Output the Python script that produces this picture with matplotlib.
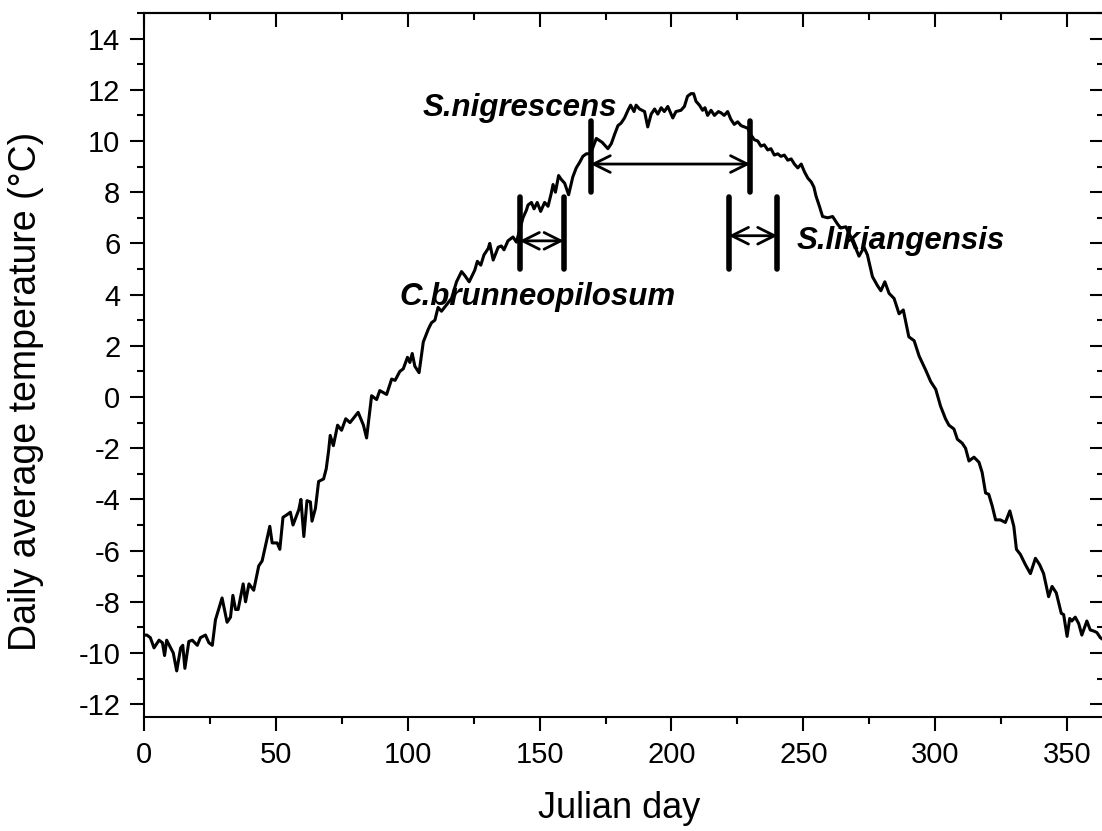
import matplotlib
matplotlib.use('Agg')
from matplotlib import pyplot as plt
from matplotlib.ticker import MultipleLocator

# daily mean temperature (day of year, degC)
day = [0, 1.1, 2.4, 3.8, 5.7, 7.0, 7.8, 8.6, 10.1, 11.1, 12.4, 13.9, 14.7, 15.5, 17.0, 18.3,
       20.2, 21.4, 23.3, 24.6, 25.9, 27.1, 29.6, 31.5, 32.8, 33.7, 34.7, 35.7, 37.6, 38.5,
       39.8, 41.6, 43.5, 44.8, 47.7, 48.6, 50.5, 51.5, 52.7, 54.2, 55.5, 56.5, 58.7, 59.5,
       60.6, 61.8, 63.1, 63.7, 65.0, 66.2, 68.1, 69.1, 70.0, 70.6, 71.8, 73.4, 74.9, 76.5,
       78.1, 81.2, 83.2, 84.4, 86.3, 88.2, 89.4, 92.0, 93.9, 95.2, 97.0, 98.3, 99.9, 100.8,
       101.7, 102.7, 104.3, 105.9, 107.8, 109.0, 110.3, 111.5, 112.8, 114.7, 116.6, 118.5,
       120.4, 121.6, 123.3, 125.4, 126.4, 127.7, 128.9, 130.5, 131.1, 132.4, 134.3, 135.5,
       136.5, 138.0, 139.9, 141.2, 143.7, 145.0, 145.6, 146.9, 147.9, 149.1, 150.4, 151.9,
       153.2, 154.4, 155.1, 156.0, 157.2, 158.2, 159.5, 161.0, 162.6, 163.9, 165.1, 166.4,
       167.7, 169.3, 171.5, 173.7, 175.9, 177.2, 178.4, 179.7, 180.9, 182.2, 183.5, 184.5,
       185.8, 186.6, 187.9, 189.8, 191.0, 192.3, 193.6, 194.8, 196.1, 197.3, 198.6, 200.5,
       201.7, 203.6, 204.9, 206.1, 207.4, 208.4, 209.3, 210.6, 211.8, 212.7, 213.7, 215.0,
       216.3, 217.8, 218.8, 220.0, 221.3, 222.5, 223.8, 225.1, 226.4, 227.6, 228.9, 230.1,
       231.4, 232.7, 233.9, 235.2, 236.5, 237.7, 239.0, 240.3, 241.5, 242.8, 244.1, 245.4,
       246.6, 247.9, 249.2, 250.4, 251.7, 253.0, 254.0, 254.8, 256.1, 257.3, 259.2, 261.1,
       263.0, 264.2, 266.1, 268.0, 269.9, 271.1, 273.0, 274.3, 276.2, 278.1, 279.4, 280.9,
       282.5, 284.4, 286.3, 287.9, 290.0, 292.0, 293.9, 296.4, 298.3, 300.2, 302.0, 303.9,
       305.2, 307.1, 308.4, 310.2, 311.5, 312.8, 314.7, 316.6, 317.8, 319.1, 320.3, 321.6,
       322.9, 324.7, 326.6, 328.3, 329.8, 330.8, 332.3, 334.2, 336.1, 338.0, 339.6, 341.1,
       343.0, 344.3, 345.9, 347.8, 348.7, 350.0, 351.0, 351.8, 353.1, 354.4, 355.6, 357.5,
       358.8, 360.3, 361.3, 362.6, 364.0]
temp = [-9.3, -9.3, -9.4, -9.8, -9.5, -9.6, -10.1, -9.5, -9.8, -10.0, -10.7, -9.8, -9.7, -10.6,
        -9.55, -9.5, -9.7, -9.4, -9.3, -9.6, -9.7, -8.7, -7.85, -8.8, -8.6, -7.75, -8.3, -8.3,
        -7.3, -8.0, -7.3, -7.55, -6.6, -6.4, -5.05, -5.7, -5.7, -5.95, -4.7, -4.6, -4.5, -5.0,
        -4.4, -4.0, -5.45, -4.05, -4.1, -4.85, -4.35, -3.3, -3.2, -2.8, -2.1, -1.5, -1.9, -1.1,
        -1.3, -0.85, -1.0, -0.6, -1.1, -1.6, 0.05, -0.1, 0.25, 0.1, 0.7, 0.65, 1.0, 1.1, 1.55,
        1.35, 1.7, 1.2, 0.95, 2.15, 2.65, 2.9, 3.0, 3.5, 3.35, 3.6, 3.85, 4.5, 4.9, 4.75, 4.5,
        4.95, 5.3, 5.15, 5.55, 5.8, 6.0, 5.35, 5.85, 5.9, 5.75, 6.1, 6.25, 6.05, 7.0, 7.3, 7.5,
        7.6, 7.35, 7.6, 7.25, 7.6, 7.45, 7.95, 8.3, 8.0, 8.65, 8.5, 8.35, 7.9, 8.6, 8.95, 9.15,
        9.4, 9.5, 9.5, 10.1, 9.95, 9.7, 9.9, 10.25, 10.6, 10.7, 10.9, 11.2, 11.4, 11.15, 11.4,
        11.25, 11.15, 10.55, 11.05, 11.25, 11.05, 11.3, 11.15, 11.35, 10.9, 11.15, 11.2, 11.35,
        11.75, 11.85, 11.85, 11.55, 11.4, 11.2, 11.3, 11.0, 11.2, 11.0, 11.15, 11.1, 11.0,
        11.15, 10.85, 10.65, 10.75, 10.6, 10.55, 10.5, 10.25, 10.05, 10.0, 9.8, 9.85, 9.65,
        9.7, 9.45, 9.5, 9.4, 9.45, 9.25, 9.3, 9.1, 8.95, 9.1, 8.8, 8.55, 8.4, 8.2, 7.85, 7.45,
        7.05, 7.0, 7.05, 6.75, 6.6, 6.65, 6.25, 5.8, 5.5, 5.85, 5.55, 4.7, 4.35, 4.15, 4.5,
        4.05, 3.85, 3.25, 3.4, 2.35, 2.2, 1.6, 1.05, 0.6, 0.3, -0.35, -0.85, -1.1, -1.25, -1.65,
        -1.8, -2.0, -2.5, -2.35, -2.55, -2.95, -3.75, -3.8, -4.25, -4.8, -4.8, -4.9, -4.45,
        -5.05, -5.95, -6.15, -6.55, -6.9, -6.3, -6.55, -6.9, -7.8, -7.4, -7.65, -8.45, -8.5,
        -9.35, -8.65, -8.75, -8.6, -8.85, -9.3, -8.75, -9.1, -9.15, -9.2, -9.4, -9.5]

# species periods: start/end day, bar extent, arrow level, label anchor
species = ['C.brunneopilosum', 'S.nigrescens', 'S.likiangensis']
start = [142.4, 169.3, 221.7]
end = [159.2, 229.9, 240.2]
bar_lo = [5.0, 8.0, 5.0]
bar_hi = [7.8, 10.8, 7.8]
arrow_y = [6.1, 9.1, 6.3]
label_x = [97.0, 105.5, 247.3]
label_y = [3.9, 11.3, 6.1]

plt.rcParams['font.family'] = ['Liberation Sans', 'DejaVu Sans']
plt.rcParams['axes.unicode_minus'] = False

fig = plt.figure(figsize=(11.02, 8.31), dpi=100)
ax = fig.add_axes([144 / 1102, 114 / 831, 960 / 1102, 704 / 831])

ax.plot(day, temp, color='black', lw=2.2)

for i in range(len(species)):
    for xb in (start[i], end[i]):
        ax.plot([xb, xb], [bar_lo[i], bar_hi[i]], color='black', lw=4,
                solid_capstyle='round')
    ax.annotate('', xy=(end[i], arrow_y[i]), xytext=(start[i], arrow_y[i]),
                arrowprops=dict(arrowstyle='<->,head_length=0.6,head_width=0.3',
                                color='black', lw=2, shrinkA=0, shrinkB=0,
                                mutation_scale=20))
    ax.text(label_x[i], label_y[i], species[i], fontsize=22.5, fontweight='bold',
            fontstyle='italic', ha='left', va='center')

ax.set_xlim(0, 364)
ax.set_ylim(-12.5, 15)
ax.xaxis.set_major_locator(MultipleLocator(50))
ax.xaxis.set_minor_locator(MultipleLocator(25))
ax.yaxis.set_major_locator(MultipleLocator(2))
ax.yaxis.set_minor_locator(MultipleLocator(1))

ax.tick_params(which='both', direction='out', width=1.5, labelsize=21, pad=7)
ax.tick_params(which='major', length=10)
ax.tick_params(which='minor', length=5)

# mirrored ticks on top and right, pointing inward
top = ax.secondary_xaxis('top')
top.set_xticks(range(0, 365, 50))
top.xaxis.set_minor_locator(MultipleLocator(25))
top.tick_params(which='both', direction='in', width=1.5, labeltop=False)
top.tick_params(which='major', length=10)
top.tick_params(which='minor', length=5)
right = ax.secondary_yaxis('right')
right.set_yticks(range(-12, 15, 2))
right.yaxis.set_minor_locator(MultipleLocator(1))
right.tick_params(which='both', direction='in', width=1.5, labelright=False)
right.tick_params(which='major', length=10)
right.tick_params(which='minor', length=5)

for s in ax.spines.values():
    s.set_linewidth(1.5)
top.spines['top'].set_linewidth(1.5)
right.spines['right'].set_linewidth(1.5)

ax.set_xlabel('Julian day', fontsize=26)
ax.set_ylabel('Daily average temperature (°C)', fontsize=27)
ax.xaxis.set_label_coords(0.495, -0.105)
ax.yaxis.set_label_coords(-0.104, 0.463)

fig.savefig('out.png', dpi=100)
